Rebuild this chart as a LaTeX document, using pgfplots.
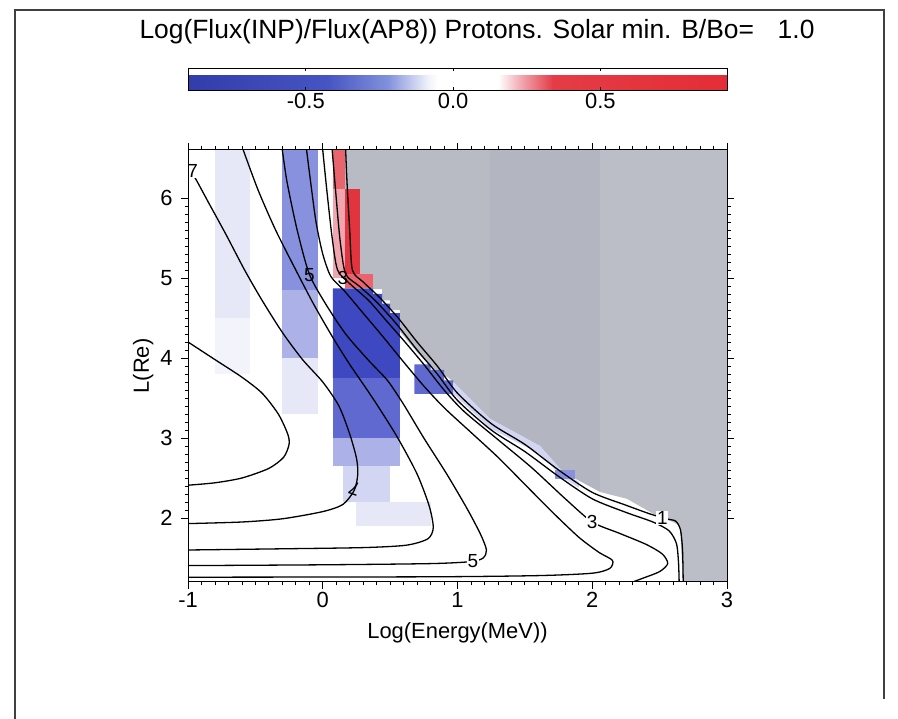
\documentclass[border=0pt]{standalone}
\usepackage{fontspec}
\setmainfont{Liberation Sans}
\usepackage{pgfplots}
\pgfplotsset{compat=1.18}
\definecolor{gA}{RGB}{184,187,196}
\definecolor{gB}{RGB}{179,182,192}
\definecolor{gC}{RGB}{187,190,198}
\definecolor{bDark}{RGB}{62,72,192}
\definecolor{bMed}{RGB}{95,105,208}
\definecolor{bMid}{RGB}{135,145,222}
\definecolor{bLight}{RGB}{172,178,232}
\definecolor{bPale}{RGB}{210,214,242}
\definecolor{bFaint}{RGB}{230,232,248}
\definecolor{rRed}{RGB}{226,52,62}
\definecolor{rMid}{RGB}{234,100,110}
\definecolor{rPink}{RGB}{240,165,175}
\pgfplotsset{colormap={idl}{rgb255(0pt)=(50,60,170) rgb255(140pt)=(70,85,195) rgb255(200pt)=(130,145,220) rgb255(240pt)=(240,242,250) rgb255(250pt)=(255,255,255) rgb255(310pt)=(255,255,255) rgb255(335pt)=(240,160,170) rgb255(365pt)=(228,60,70) rgb255(539pt)=(228,45,55)}}
\begin{document}
\begin{tikzpicture}
\useasboundingbox (0,0) rectangle (898bp,719bp);
\draw[line width=1.2bp, black!75] (15bp,0bp) -- (15bp,709bp) -- (884bp,709bp) -- (884bp,20bp);
\node[font=\fontsize{26.5}{26.5}\selectfont] at (477bp,687bp) {Log(Flux(INP)/Flux(AP8)) Protons. Solar min. B/Bo=\hspace{0.9em}1.0};
\begin{axis}[
  at={(188bp,137bp)}, anchor=south west,
  scale only axis, width=539bp, height=432bp,
  xmin=-1, xmax=3, ymin=1.2, ymax=6.6,
  xtick={-1,0,1,2,3}, ytick={2,3,4,5,6},
  minor x tick num=9, minor y tick num=9,
  tick align=outside, major tick length=7bp, minor tick length=3.5bp,
  xticklabel pos=lower, yticklabel pos=left,
  xlabel={Log(Energy(MeV))}, ylabel={L(Re)},
  tick label style={font=\fontsize{22}{22}\selectfont},
  yticklabel style={xshift=-5bp},
  label style={font=\fontsize{22}{22}\selectfont},
  xlabel style={yshift=-8bp},
  /pgf/number format/assume math mode=true,
  axis on top, axis line style={line width=1bp},
  every tick/.style={black, line width=0.8bp},
  colormap name=idl, point meta min=-0.9, point meta max=0.93,
  colorbar horizontal,
  colorbar style={
    at={(0,1.139)}, anchor=south west,
    scale only axis, width=539bp, height=22bp,
    xtick={-0.5,0,0.5}, xticklabels={-0.5,0.0,0.5},
    minor x tick num=0,
    xticklabel pos=lower,
    tick label style={font=\fontsize{22}{22}\selectfont},
    major tick length=3bp, tick align=inside,
    /pgf/number format/assume math mode=true,
  },
]
% gray region
\addplot[draw=none, fill=gA] coordinates {(0.165,6.6) (0.165,6.11) (0.276,6.11) (0.276,5.05) (0.373,5.05) (0.373,4.86) (0.44,4.86) (0.44,4.72) (0.5,4.72) (0.5,4.6) (0.573,4.6) (0.573,4.33) (0.699,4.075) (0.796,3.9) (0.944,3.74) (1.241,3.24) (1.241,6.6)} -- cycle;
\addplot[draw=none, fill=gB] coordinates {(1.241,6.6) (1.241,3.24) (1.612,2.9) (1.783,2.575) (2.058,2.325) (2.058,6.6)} -- cycle;
\addplot[draw=none, fill=gC] coordinates {(2.058,6.6) (2.058,2.325) (2.258,2.24) (2.481,2.025) (2.599,1.95) (2.651,1.9) (2.673,1.2) (3,1.2) (3,6.6)} -- cycle;
% faint stripes
\addplot[draw=none, fill=bFaint] coordinates {(-0.8,6.6) (-0.54,6.6) (-0.54,4.5) (-0.8,4.5)} -- cycle;
\addplot[draw=none, fill=bFaint!50!white] coordinates {(-0.8,4.5) (-0.54,4.5) (-0.54,3.8) (-0.8,3.8)} -- cycle;
\addplot[draw=none, fill=bMid] coordinates {(-0.30,6.6) (-0.035,6.6) (-0.035,4.85) (-0.30,4.85)} -- cycle;
\addplot[draw=none, fill=bLight] coordinates {(-0.30,4.85) (-0.035,4.85) (-0.035,4.0) (-0.30,4.0)} -- cycle;
\addplot[draw=none, fill=bFaint] coordinates {(-0.30,4.0) (-0.035,4.0) (-0.035,3.3) (-0.30,3.3)} -- cycle;
% blue block
\addplot[draw=none, fill=bDark] coordinates {(0.076,4.87) (0.373,4.87) (0.373,4.8) (0.44,4.8) (0.44,4.68) (0.5,4.68) (0.5,4.56) (0.573,4.56) (0.573,3.75) (0.076,3.75)} -- cycle;
\addplot[draw=none, fill=bMed] coordinates {(0.076,3.75) (0.573,3.75) (0.573,3.0) (0.076,3.0)} -- cycle;
\addplot[draw=none, fill=bLight] coordinates {(0.076,3.0) (0.573,3.0) (0.573,2.65) (0.076,2.65)} -- cycle;
\addplot[draw=none, fill=bPale] coordinates {(0.15,2.65) (0.5,2.65) (0.5,2.2) (0.15,2.2)} -- cycle;
\addplot[draw=none, fill=bFaint] coordinates {(0.25,2.2) (0.8,2.2) (0.8,1.9) (0.25,1.9)} -- cycle;
% blue near boundary
\addplot[draw=none, fill=bMed] coordinates {(0.68,3.92) (0.8,3.92) (0.8,3.85) (0.9,3.85) (0.9,3.72) (0.97,3.72) (0.97,3.55) (0.68,3.55)} -- cycle;
\addplot[draw=none, fill=bPale] coordinates {(0.97,3.7) (1.241,3.24) (1.612,2.9) (1.783,2.575) (1.9,2.45) (1.9,2.38) (1.783,2.5) (1.612,2.8) (1.241,3.12) (0.97,3.55)} -- cycle;
\addplot[draw=none, fill=bMid] coordinates {(1.72,2.6) (1.87,2.6) (1.87,2.49) (1.72,2.49)} -- cycle;
% red
\addplot[draw=none, fill=rMid] coordinates {(0.076,6.6) (0.165,6.6) (0.165,6.11) (0.076,6.11)} -- cycle;
\addplot[draw=none, fill=rPink] coordinates {(0.076,6.11) (0.165,6.11) (0.165,5.0) (0.076,5.0)} -- cycle;
\addplot[draw=none, fill=rRed] coordinates {(0.165,6.11) (0.276,6.11) (0.276,5.05) (0.165,5.05)} -- cycle;
\addplot[draw=none, fill=rMid] coordinates {(0.165,5.05) (0.373,5.05) (0.373,4.88) (0.165,4.88)} -- cycle;
% contours
\pgfplotsset{cont/.style={black, line width=1.3bp, smooth, tension=0.45}}
\addplot[cont] coordinates {(-1,4.2) (-0.8,3.98) (-0.6,3.76) (-0.45,3.56) (-0.33,3.3) (-0.26,3.05) (-0.25,2.92) (-0.29,2.76) (-0.4,2.62) (-0.6,2.5) (-0.8,2.44) (-1,2.41)};
\addplot[cont] coordinates {(-0.955,6.27) (-0.93,6.2) (-0.85,5.95) (-0.72,5.55) (-0.58,5.1) (-0.45,4.72) (-0.3,4.32) (-0.15,3.98) (0.0,3.7) (0.12,3.4) (0.2,3.05) (0.25,2.75) (0.26,2.55) (0.235,2.35) (0.15,2.17) (0.0,2.08) (-0.3,1.99) (-0.6,1.95) (-1,1.93)};
\addplot[cont] coordinates {(-0.59,6.6) (-0.48,6.1) (-0.35,5.6) (-0.2,5.1) (-0.07,4.68) (0.07,4.27) (0.2,3.92) (0.37,3.5) (0.55,3.02) (0.7,2.55) (0.79,2.15) (0.82,1.88) (0.78,1.74) (0.62,1.66) (0.3,1.63) (-0.3,1.615) (-1,1.6)};
\addplot[cont] coordinates {(-0.3,6.6) (-0.265,6.2) (-0.19,5.6) (-0.1,5.05) (0.02,4.68) (0.17,4.3) (0.34,3.97) (0.48,3.72) (0.6,3.42) (0.75,3.0) (0.92,2.55) (1.07,2.12) (1.17,1.8) (1.215,1.6) (1.19,1.5) (1.1,1.455) (0.8,1.43) (0,1.415) (-1,1.405)};
\addplot[cont] coordinates {(-0.12,6.6) (-0.09,6.2) (-0.05,5.7) (0.0,5.3) (0.06,5.02) (0.16,4.84) (0.3,4.56) (0.45,4.26) (0.6,3.95) (0.75,3.65) (0.9,3.38) (1.1,3.07) (1.3,2.76) (1.5,2.42) (1.7,2.08) (1.9,1.76) (2.05,1.57) (2.15,1.47) (2.13,1.37) (2.0,1.31) (1.6,1.28) (0.8,1.265) (-1,1.26)};
\addplot[cont] coordinates {(0.0,6.6) (0.03,6.1) (0.07,5.5) (0.11,5.1) (0.2,4.93) (0.34,4.72) (0.47,4.47) (0.6,4.22) (0.75,3.92) (0.9,3.6) (1.05,3.33) (1.3,2.98) (1.55,2.63) (1.8,2.24) (2.0,1.95) (2.2,1.81) (2.4,1.67) (2.52,1.55) (2.56,1.43) (2.5,1.33) (2.38,1.25) (2.3,1.2)};
\addplot[cont] coordinates {(0.07,6.6) (0.1,6.0) (0.13,5.45) (0.17,5.05) (0.27,4.9) (0.4,4.7) (0.55,4.42) (0.7,4.1) (0.85,3.8) (1.0,3.47) (1.25,3.1) (1.5,2.83) (1.75,2.52) (2.0,2.24) (2.25,2.07) (2.45,1.95) (2.57,1.84) (2.625,1.68) (2.64,1.45) (2.645,1.2)};
\addplot[cont] coordinates {(0.17,6.6) (0.18,6.2) (0.2,5.6) (0.22,5.1) (0.3,4.95) (0.42,4.76) (0.56,4.5) (0.7,4.2) (0.85,3.9) (1.0,3.56) (1.25,3.18) (1.5,2.92) (1.75,2.6) (2.0,2.32) (2.25,2.16) (2.43,2.05) (2.55,1.99) (2.62,1.96) (2.655,1.85) (2.67,1.6) (2.675,1.2)};
% contour labels
\tikzset{clab/.style={font=\fontsize{19}{19}\selectfont, inner sep=0.6bp}}
\node[clab, fill=white] at (axis cs:-0.965,6.34) {7};
\node[clab] at (axis cs:-0.1,5.04) {5};
\node[clab] at (axis cs:0.15,5.0) {3};
\node[clab, rotate=160] at (axis cs:0.235,2.36) {7};
\node[clab, fill=white] at (axis cs:1.115,1.46) {5};
\node[clab, fill=white] at (axis cs:2.0,1.95) {3};
\node[clab, fill=white] at (axis cs:2.52,2.0) {1};
\end{axis}
\end{tikzpicture}
\end{document}
